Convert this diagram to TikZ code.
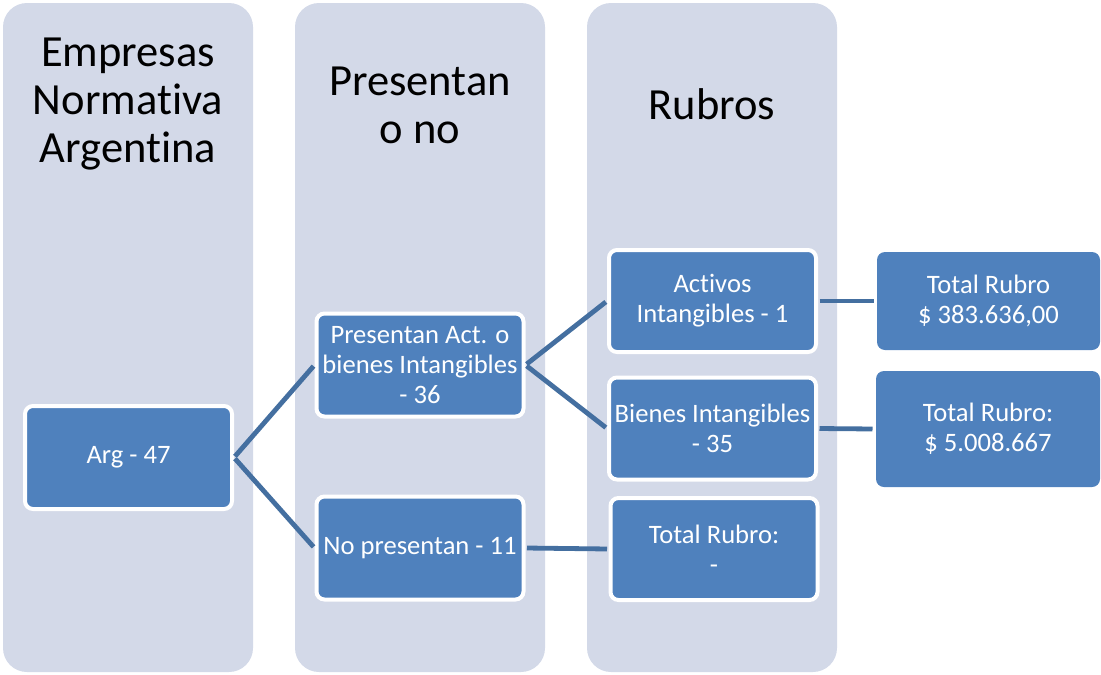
\documentclass[tikz,border=0pt]{standalone}
\usepackage{fontspec}
\setmainfont{Carlito}[Ligatures={NoCommon}]
\definecolor{colbg}{RGB}{211,217,232}
\definecolor{boxblue}{RGB}{79,129,189}
\definecolor{linkblue}{RGB}{68,111,160}
\begin{document}
\begin{tikzpicture}[x=1pt,y=-1pt,
  column/.style={fill=colbg, draw=none, rounded corners=24pt},
  header/.style={text=black, align=center, font=\fontsize{44.5}{48}\selectfont, inner sep=0pt},
  bbox/.style={fill=boxblue, draw=white, line width=4pt, rounded corners=8pt,
    text=white, align=center, font=\fontsize{26.6}{30}\selectfont, inner sep=0pt,
    minimum width=207pt, minimum height=102pt},
  tbox/.style={bbox, draw=none},
  link/.style={draw=linkblue, line width=4.8pt, shorten <=1.5pt, shorten >=1.5pt}]
\useasboundingbox (0,0) rectangle (1101,675);
% columns
\fill[column] (3,3) rectangle (253,672);
\fill[column] (295,3) rectangle (545,672);
\fill[column] (587,3) rectangle (837,672);
% headers
\node[header] (h1) at (128,104) {Empresas\\Normativa\\Argentina};
\node[header] (h2) at (420,105) {Presentan\\o no};
\node[header] (h3) at (712,104) {Rubros};
% boxes
\node[bbox, minimum height=103pt] (arg) at (128.5,457.5) {Arg - 47};
\node[bbox, minimum height=103pt] (pres) at (420,365) {Presentan Act. o\\bienes Intangibles\\- 36};
\node[bbox, minimum height=103pt] (nopres) at (420,548) {No presentan - 11};
\node[bbox] (act) at (712.5,301) {Activos\\Intangibles - 1};
\node[bbox] (bien) at (712.5,428.5) {Bienes Intangibles\\- 35};
\node[bbox] (tr0) at (714,549) {Total Rubro:\\-};
\node[tbox, minimum width=223pt, minimum height=98pt] (tr1) at (988.5,301) {Total Rubro\\\$ 383.636,00};
\node[tbox, minimum width=224pt, minimum height=116pt] (tr2) at (988,429) {Total Rubro:\\\$ 5.008.667};
% connectors
\draw[link] (arg.east) -- (pres.west);
\draw[link] (arg.east) -- (nopres.west);
\draw[link] (pres.east) -- (act.west);
\draw[link] (pres.east) -- (bien.west);
\draw[link] (nopres.east) -- (tr0.west);
\draw[link] (act.east) -- (tr1.west);
\draw[link] (bien.east) -- (tr2.west);
\end{tikzpicture}
\end{document}
